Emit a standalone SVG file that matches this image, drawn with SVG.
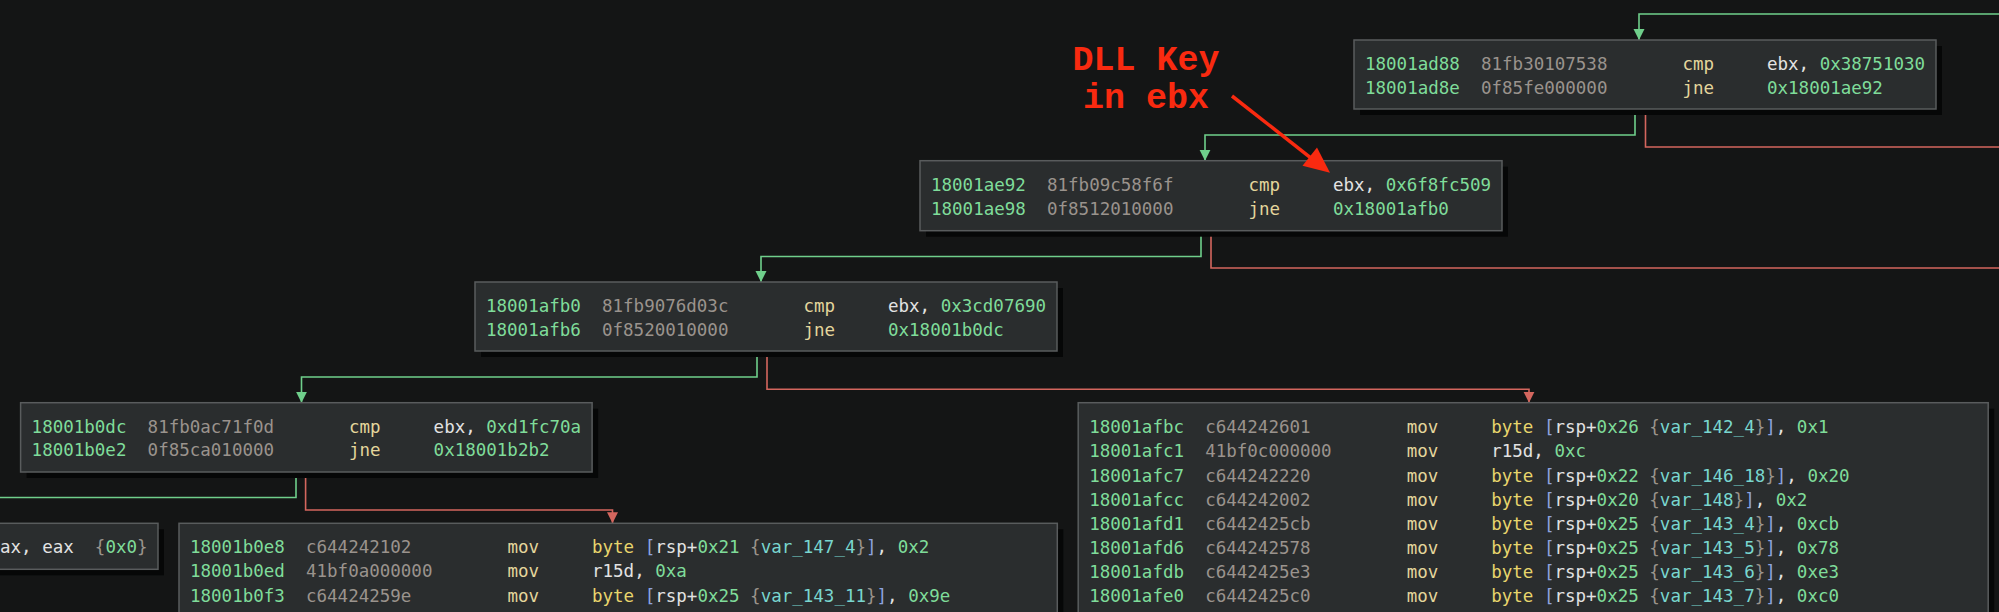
<svg xmlns="http://www.w3.org/2000/svg" width="1999" height="612" viewBox="0 0 1999 612" xml:space="preserve">
<defs>
<style>
.bg{fill:#141515}
.sh{fill:#060707}
.box{fill:#2a2d2e;stroke:#595c5d;stroke-width:1.5}
text{font-family:"DejaVu Sans Mono","Liberation Mono",monospace;font-size:17.5px;fill:#e0e0e0;white-space:pre}
.ad{fill:#7fdc9a}
.by{fill:#9a938d}
.mn{fill:#e4d69c}
.rg{fill:#e2e2e2}
.nm{fill:#7fdc9a}
.kw{fill:#e8d56c}
.br{fill:#8ea3de}
.cb{fill:#9a948c}
.vr{fill:#79d6cf}
.g{fill:none;stroke:#6fcf8b;stroke-width:1.6}
.r{fill:none;stroke:#d4665e;stroke-width:1.6}
.note{font-family:"Liberation Mono","Courier New",monospace;font-weight:bold;font-size:35px;fill:#f92a10;text-anchor:middle}
</style>
<marker id="ag" markerUnits="userSpaceOnUse" markerWidth="12" markerHeight="12" refX="11" refY="5.5" orient="auto"><path d="M0,0 L11,5.5 L0,11 z" fill="#6fcf8b"/></marker>
<marker id="ar" markerUnits="userSpaceOnUse" markerWidth="12" markerHeight="12" refX="11" refY="5.5" orient="auto"><path d="M0,0 L11,5.5 L0,11 z" fill="#d4665e"/></marker>
</defs>
<rect class="bg" x="0" y="0" width="1999" height="612"/>

<g id="connectors">
<path class="g" d="M1999,14 H1639 V40" marker-end="url(#ag)"/>
<path class="g" d="M1635,109 V135 H1205 V160.7" marker-end="url(#ag)"/>
<path class="r" d="M1645.5,109 V147 H1999"/>
<path class="g" d="M1201,230.7 V256.5 H761 V282" marker-end="url(#ag)"/>
<path class="r" d="M1211,230.7 V268 H1999"/>
<path class="g" d="M757,351 V377 H301.5 V402.7" marker-end="url(#ag)"/>
<path class="r" d="M767,351 V389.3 H1529 V402.7" marker-end="url(#ar)"/>
<path class="g" d="M296,472 V497.5 H0"/>
<path class="r" d="M305.6,472 V510 H612.5 V523.3" marker-end="url(#ar)"/>
</g>

<g id="node-18001ad88">
<rect class="sh" x="1360" y="46" width="582" height="69"/>
<rect class="box" x="1354" y="40" width="582" height="69"/>
<text y="70"><tspan class="ad" x="1365">18001ad88</tspan><tspan class="by" x="1481">81fb30107538</tspan><tspan class="mn" x="1682.5">cmp</tspan><tspan x="1767"><tspan class="rg">ebx, </tspan><tspan class="nm">0x38751030</tspan></tspan></text>
<text y="94"><tspan class="ad" x="1365">18001ad8e</tspan><tspan class="by" x="1481">0f85fe000000</tspan><tspan class="mn" x="1682.5">jne</tspan><tspan class="nm" x="1767">0x18001ae92</tspan></text>
</g>

<g id="node-18001ae92">
<rect class="sh" x="926" y="166.7" width="582" height="70"/>
<rect class="box" x="920" y="160.7" width="582" height="70"/>
<text y="191"><tspan class="ad" x="931">18001ae92</tspan><tspan class="by" x="1047">81fb09c58f6f</tspan><tspan class="mn" x="1248.5">cmp</tspan><tspan x="1333"><tspan class="rg">ebx, </tspan><tspan class="nm">0x6f8fc509</tspan></tspan></text>
<text y="215"><tspan class="ad" x="931">18001ae98</tspan><tspan class="by" x="1047">0f8512010000</tspan><tspan class="mn" x="1248.5">jne</tspan><tspan class="nm" x="1333">0x18001afb0</tspan></text>
</g>

<g id="node-18001afb0">
<rect class="sh" x="481" y="288" width="582" height="69"/>
<rect class="box" x="475" y="282" width="582" height="69"/>
<text y="312"><tspan class="ad" x="486">18001afb0</tspan><tspan class="by" x="602">81fb9076d03c</tspan><tspan class="mn" x="803.5">cmp</tspan><tspan x="888"><tspan class="rg">ebx, </tspan><tspan class="nm">0x3cd07690</tspan></tspan></text>
<text y="336"><tspan class="ad" x="486">18001afb6</tspan><tspan class="by" x="602">0f8520010000</tspan><tspan class="mn" x="803.5">jne</tspan><tspan class="nm" x="888">0x18001b0dc</tspan></text>
</g>

<g id="node-18001b0dc">
<rect class="sh" x="26.6" y="408.7" width="571.5" height="69.3"/>
<rect class="box" x="20.6" y="402.7" width="571.5" height="69.3"/>
<text y="432.5"><tspan class="ad" x="31.6">18001b0dc</tspan><tspan class="by" x="147.6">81fb0ac71f0d</tspan><tspan class="mn" x="349">cmp</tspan><tspan x="433.6"><tspan class="rg">ebx, </tspan><tspan class="nm">0xd1fc70a</tspan></tspan></text>
<text y="456"><tspan class="ad" x="31.6">18001b0e2</tspan><tspan class="by" x="147.6">0f85ca010000</tspan><tspan class="mn" x="349">jne</tspan><tspan class="nm" x="433.6">0x18001b2b2</tspan></text>
</g>

<g id="node-xor">
<rect class="sh" x="-4" y="529.3" width="168" height="46"/>
<rect class="box" x="-10" y="523.3" width="168" height="46"/>
<text y="553.3" x="0"><tspan class="rg">ax, eax&#160;&#160;</tspan><tspan class="cb">{</tspan><tspan class="nm">0x0</tspan><tspan class="cb">}</tspan></text>
</g>

<g id="node-18001b0e8">
<rect class="sh" x="185" y="529.3" width="878.3" height="200"/>
<rect class="box" x="179" y="523.3" width="878.3" height="200"/>
<text y="553.3"><tspan class="ad" x="190">18001b0e8</tspan><tspan class="by" x="306">c644242102</tspan><tspan class="mn" x="507.5">mov</tspan><tspan x="592"><tspan class="kw">byte</tspan> <tspan class="br">[</tspan><tspan class="rg">rsp+</tspan><tspan class="nm">0x21</tspan> <tspan class="cb">{</tspan><tspan class="vr">var_147_4</tspan><tspan class="cb">}</tspan><tspan class="br">]</tspan><tspan class="rg">, </tspan><tspan class="nm">0x2</tspan></tspan></text>
<text y="577.4"><tspan class="ad" x="190">18001b0ed</tspan><tspan class="by" x="306">41bf0a000000</tspan><tspan class="mn" x="507.5">mov</tspan><tspan x="592"><tspan class="rg">r15d, </tspan><tspan class="nm">0xa</tspan></tspan></text>
<text y="601.5"><tspan class="ad" x="190">18001b0f3</tspan><tspan class="by" x="306">c64424259e</tspan><tspan class="mn" x="507.5">mov</tspan><tspan x="592"><tspan class="kw">byte</tspan> <tspan class="br">[</tspan><tspan class="rg">rsp+</tspan><tspan class="nm">0x25</tspan> <tspan class="cb">{</tspan><tspan class="vr">var_143_11</tspan><tspan class="cb">}</tspan><tspan class="br">]</tspan><tspan class="rg">, </tspan><tspan class="nm">0x9e</tspan></tspan></text>
</g>

<g id="node-18001afbc">
<rect class="sh" x="1084.2" y="408.7" width="910" height="260"/>
<rect class="box" x="1078.2" y="402.7" width="910" height="260"/>
<text y="433.3"><tspan class="ad" x="1089.2">18001afbc</tspan><tspan class="by" x="1205.2">c644242601</tspan><tspan class="mn" x="1406.7">mov</tspan><tspan x="1491.2"><tspan class="kw">byte</tspan> <tspan class="br">[</tspan><tspan class="rg">rsp+</tspan><tspan class="nm">0x26</tspan> <tspan class="cb">{</tspan><tspan class="vr">var_142_4</tspan><tspan class="cb">}</tspan><tspan class="br">]</tspan><tspan class="rg">, </tspan><tspan class="nm">0x1</tspan></tspan></text>
<text y="457.4"><tspan class="ad" x="1089.2">18001afc1</tspan><tspan class="by" x="1205.2">41bf0c000000</tspan><tspan class="mn" x="1406.7">mov</tspan><tspan x="1491.2"><tspan class="rg">r15d, </tspan><tspan class="nm">0xc</tspan></tspan></text>
<text y="481.5"><tspan class="ad" x="1089.2">18001afc7</tspan><tspan class="by" x="1205.2">c644242220</tspan><tspan class="mn" x="1406.7">mov</tspan><tspan x="1491.2"><tspan class="kw">byte</tspan> <tspan class="br">[</tspan><tspan class="rg">rsp+</tspan><tspan class="nm">0x22</tspan> <tspan class="cb">{</tspan><tspan class="vr">var_146_18</tspan><tspan class="cb">}</tspan><tspan class="br">]</tspan><tspan class="rg">, </tspan><tspan class="nm">0x20</tspan></tspan></text>
<text y="505.6"><tspan class="ad" x="1089.2">18001afcc</tspan><tspan class="by" x="1205.2">c644242002</tspan><tspan class="mn" x="1406.7">mov</tspan><tspan x="1491.2"><tspan class="kw">byte</tspan> <tspan class="br">[</tspan><tspan class="rg">rsp+</tspan><tspan class="nm">0x20</tspan> <tspan class="cb">{</tspan><tspan class="vr">var_148</tspan><tspan class="cb">}</tspan><tspan class="br">]</tspan><tspan class="rg">, </tspan><tspan class="nm">0x2</tspan></tspan></text>
<text y="529.7"><tspan class="ad" x="1089.2">18001afd1</tspan><tspan class="by" x="1205.2">c6442425cb</tspan><tspan class="mn" x="1406.7">mov</tspan><tspan x="1491.2"><tspan class="kw">byte</tspan> <tspan class="br">[</tspan><tspan class="rg">rsp+</tspan><tspan class="nm">0x25</tspan> <tspan class="cb">{</tspan><tspan class="vr">var_143_4</tspan><tspan class="cb">}</tspan><tspan class="br">]</tspan><tspan class="rg">, </tspan><tspan class="nm">0xcb</tspan></tspan></text>
<text y="553.8"><tspan class="ad" x="1089.2">18001afd6</tspan><tspan class="by" x="1205.2">c644242578</tspan><tspan class="mn" x="1406.7">mov</tspan><tspan x="1491.2"><tspan class="kw">byte</tspan> <tspan class="br">[</tspan><tspan class="rg">rsp+</tspan><tspan class="nm">0x25</tspan> <tspan class="cb">{</tspan><tspan class="vr">var_143_5</tspan><tspan class="cb">}</tspan><tspan class="br">]</tspan><tspan class="rg">, </tspan><tspan class="nm">0x78</tspan></tspan></text>
<text y="577.9"><tspan class="ad" x="1089.2">18001afdb</tspan><tspan class="by" x="1205.2">c6442425e3</tspan><tspan class="mn" x="1406.7">mov</tspan><tspan x="1491.2"><tspan class="kw">byte</tspan> <tspan class="br">[</tspan><tspan class="rg">rsp+</tspan><tspan class="nm">0x25</tspan> <tspan class="cb">{</tspan><tspan class="vr">var_143_6</tspan><tspan class="cb">}</tspan><tspan class="br">]</tspan><tspan class="rg">, </tspan><tspan class="nm">0xe3</tspan></tspan></text>
<text y="602"><tspan class="ad" x="1089.2">18001afe0</tspan><tspan class="by" x="1205.2">c6442425c0</tspan><tspan class="mn" x="1406.7">mov</tspan><tspan x="1491.2"><tspan class="kw">byte</tspan> <tspan class="br">[</tspan><tspan class="rg">rsp+</tspan><tspan class="nm">0x25</tspan> <tspan class="cb">{</tspan><tspan class="vr">var_143_7</tspan><tspan class="cb">}</tspan><tspan class="br">]</tspan><tspan class="rg">, </tspan><tspan class="nm">0xc0</tspan></tspan></text>
</g>

<g id="annotation">
<text class="note" x="1146" y="70">DLL Key</text>
<text class="note" x="1146" y="108">in ebx</text>
<line x1="1232" y1="96" x2="1312" y2="158.8" stroke="#f92a10" stroke-width="3.5"/>
<polygon points="1330,172.7 1317,147.5 1302.5,165.8" fill="#f92a10"/>
</g>
</svg>
